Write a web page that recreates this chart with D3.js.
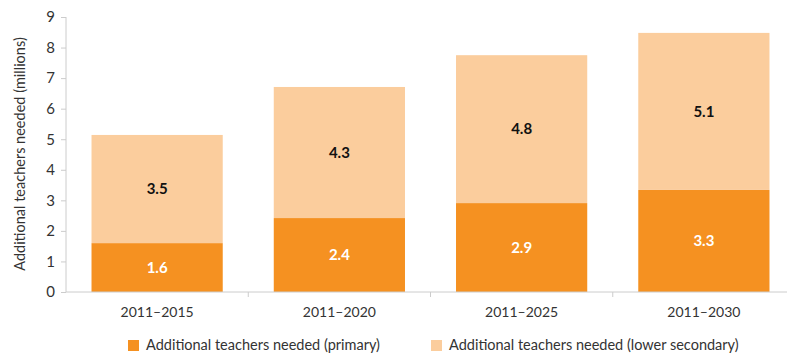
<!DOCTYPE html>
<html><head><meta charset="utf-8">
<script src="https://cdn.jsdelivr.net/npm/d3@7"></script>
<style>body{margin:0;background:#fff;} text{font-family:Lato,"Open Sans",sans-serif;}</style>
</head><body><svg id="c" width="787" height="355"></svg>
<script>
const categories = ["2011\u20132015","2011\u20132020","2011\u20132025","2011\u20132030"];
const primary = [1.6, 2.42, 2.91, 3.34];
const lowerSecondary = [3.54, 4.29, 4.84, 5.14];
const seriesNames = ["Additional teachers needed (primary)","Additional teachers needed (lower secondary)"];
const yTicks = [0,1,2,3,4,5,6,7,8,9];
const colors = ["#F59121","#FBCD9D"];

const svg = d3.select("#c");
const x = d3.scaleBand().domain(categories).range([66, 795]).paddingInner(0.28).paddingOuter(0.14);
const y = d3.scaleLinear().domain([0, 9]).range([292, 17]);

const data = categories.map((c,i)=>({cat:c, primary:primary[i], secondary:lowerSecondary[i]}));
const stack = d3.stack().keys(["primary","secondary"])(data);

svg.append("g").selectAll("g").data(stack).join("g")
  .attr("fill",(d,i)=>colors[i])
  .selectAll("rect").data(d=>d).join("rect")
  .attr("x",d=>x(d.data.cat)).attr("width",x.bandwidth())
  .attr("y",d=>y(d[1])).attr("height",d=>y(d[0])-y(d[1]));

// value labels
stack.forEach((s,si)=>{
  svg.append("g").selectAll("text").data(s).join("text")
    .attr("x",d=>x(d.data.cat)+x.bandwidth()/2)
    .attr("y",d=>(y(d[0])+y(d[1]))/2)
    .attr("dy","0.35em").attr("text-anchor","middle")
    .attr("font-size",15).attr("font-weight","bold")
    .attr("fill", si===0 ? "#fff" : "#111")
    .text(d=>(d[1]-d[0]).toFixed(1));
});

// y axis
const ya = svg.append("g").attr("transform","translate(66,0)")
  .call(d3.axisLeft(y).tickValues(yTicks).tickSize(5).tickPadding(6).tickFormat(d3.format("d")));
ya.select(".domain").attr("stroke","#ccc").attr("d","M0,17V292");
ya.selectAll(".tick line").attr("stroke","#ccc");
ya.selectAll("text").attr("font-size",15).attr("fill","#333").style("font-family","Lato,sans-serif");

// x axis
const xa = svg.append("g").attr("transform","translate(0,292)")
  .call(d3.axisBottom(x).tickSize(0).tickPadding(15));
xa.select(".domain").attr("stroke","#ccc").attr("d","M66,0H787");
xa.selectAll("text").attr("font-size",14).attr("fill","#333").style("font-family","Lato,sans-serif");
const step = x.step();
svg.append("g").selectAll("line").data(categories.slice(0,-1)).join("line")
  .attr("x1",d=>x(d)+x.bandwidth()+ (step-x.bandwidth())/2).attr("x2",d=>x(d)+x.bandwidth()+(step-x.bandwidth())/2)
  .attr("y1",292).attr("y2",297).attr("stroke","#ccc");

// y title
svg.append("text").attr("transform","translate(25,154) rotate(-90)")
  .attr("text-anchor","middle").attr("font-size",14.5).attr("fill","#333")
  .text("Additional teachers needed (millions)");

// legend
const legX = [128, 431];
seriesNames.forEach((n,i)=>{
  svg.append("rect").attr("x",legX[i]).attr("y",340).attr("width",11).attr("height",11).attr("fill",colors[i]);
  svg.append("text").attr("x",legX[i]+18).attr("y",350).attr("font-size",14.5).attr("fill","#333").text(n);
});
</script></body></html>
